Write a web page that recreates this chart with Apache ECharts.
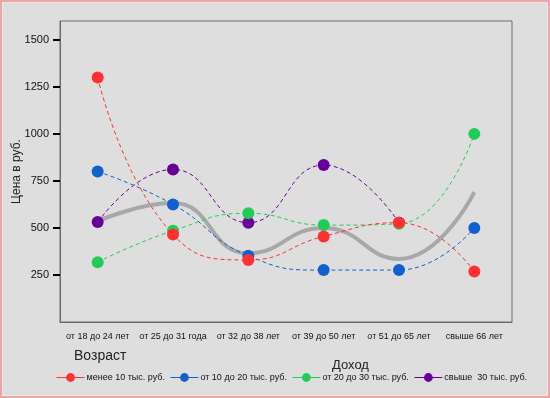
<!DOCTYPE html>
<html>
<head>
<meta charset="utf-8">
<script src="https://cdn.jsdelivr.net/npm/echarts@6/dist/echarts.min.js"></script>
<style>
  html, body { margin: 0; padding: 0; background: #dedede; }
  #wrap { position: relative; width: 550px; height: 398px; }
  #chart { width: 550px; height: 398px; }
  #frame {
    position: absolute; left: 0; top: 0; width: 550px; height: 398px;
    box-sizing: border-box; border: 2px solid #eda6a6;
    box-shadow: inset 0 0 0 1px #f2e4e4; pointer-events: none;
  }
</style>
</head>
<body>
<div id="wrap">
  <div id="chart"></div>
  <div id="frame"></div>
</div>
<script>
// возрастные группы
const ageGroups = ["от 18 до 24 лет", "от 25 до 31 года", "от 32 до 38 лет", "от 39 до 50 лет", "от 51 до 65 лет", "свыше 66 лет"]
const yTicks = [250, 500, 750, 1000, 1250, 1500]

const under10 = [1300, 465, 330, 455, 528, 268]
const from10to20 = [800, 625, 352, 276, 276, 500]
const from20to30 = [318, 485, 578, 515, 522, 1000]
const over30 = [531, 811, 528, 834, 528, null]
const trend = [535, 632, 365, 500, 335, 690]

const names = ["менее 10 тыс. руб.", "от 10 до 20 тыс. руб.", "от 20 до 30 тыс. руб.", "свыше  30 тыс. руб."]
const colors = ["#ff3030", "#1060d0", "#20cc58", "#660099"]

function lineSeries(name, data, color) {
  return {
    name: name,
    type: "line",
    smooth: 0.5,
    data: data,
    symbol: "circle",
    symbolSize: 12,
    itemStyle: { color: color },
    lineStyle: { color: color, width: 1, type: [4, 3] },
  }
}

const chart = echarts.init(document.getElementById("chart"))
chart.setOption({
  backgroundColor: "transparent",
  animation: false,
  textStyle: { fontFamily: "Liberation Sans, Arial, sans-serif" },
  title: [
    { text: "Возраст", left: 69, top: 344, textStyle: { fontSize: 14, fontWeight: "normal", color: "#222" } },
    { text: "Доход", left: 327, top: 354, textStyle: { fontSize: 13, fontWeight: "normal", color: "#222" } },
  ],
  legend: {
    data: names,
    left: 56,
    top: 373,
    padding: 0,
    itemWidth: 28,
    itemHeight: 11,
    itemGap: 5,
    lineStyle: { type: "solid", width: 1 },
    textStyle: { fontSize: 9, color: "#111", padding: [0, 0, 0, -3] },
  },
  grid: {
    left: 60,
    top: 21,
    right: 38,
    bottom: 76,
    outerBoundsMode: "none",
    containLabel: false,
    show: true,
    borderColor: "#6a6a6a",
    borderWidth: 1,
    backgroundColor: "transparent",
  },
  xAxis: {
    type: "category",
    data: ageGroups,
    boundaryGap: true,
    axisLine: { lineStyle: { color: "#6a6a6a" } },
    axisTick: { alignWithLabel: true, length: 6, lineStyle: { color: "#000", width: 2 } },
    axisLabel: { fontSize: 9, color: "#111", margin: 10, interval: 0 },
  },
  yAxis: {
    type: "value",
    min: 0,
    max: 1600,
    name: "Цена в руб.",
    nameLocation: "middle",
    nameGap: 37,
    nameMoveOverlap: false,
    nameTextStyle: { fontSize: 12, color: "#222" },
    splitLine: { show: false },
    axisLine: { show: true, lineStyle: { color: "#6a6a6a" } },
    axisTick: { show: true, length: 7, customValues: yTicks, lineStyle: { color: "#000", width: 2 } },
    axisLabel: { fontSize: 11, color: "#111", margin: 11, customValues: yTicks, formatter: (v) => String(v) },
  },
  series: [
    {
      name: "trend",
      type: "line",
      smooth: 0.5,
      data: trend,
      showSymbol: false,
      silent: true,
      lineStyle: { color: "#a8a8a8", width: 4 },
      itemStyle: { color: "#a8a8a8" },
    },
    lineSeries(names[3], over30, colors[3]),
    lineSeries(names[2], from20to30, colors[2]),
    lineSeries(names[1], from10to20, colors[1]),
    lineSeries(names[0], under10, colors[0]),
  ],
})
</script>
</body>
</html>
